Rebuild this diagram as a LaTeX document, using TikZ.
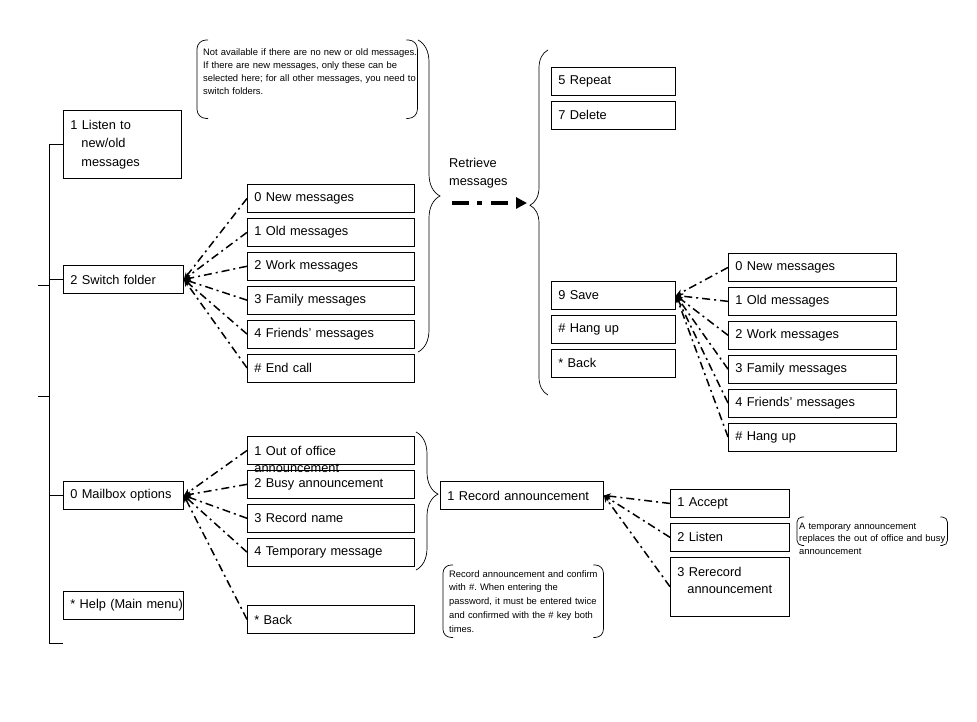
\documentclass[tikz,border=0pt]{standalone}
\usepackage{fontspec}
\setmainfont{Liberation Sans}
\usetikzlibrary{arrows.meta,calc,positioning,decorations.pathreplacing}

% round bracket pair drawn around a note node
\newcommand{\bracketpair}[2]{%
  \draw[line width=0.7pt,rounded corners=#2] ([xshift=#2+2pt]#1.north west) -- (#1.north west) -- (#1.south west) -- ([xshift=#2+2pt]#1.south west);
  \draw[line width=0.7pt,rounded corners=#2] ([xshift=-#2-2pt]#1.north east) -- (#1.north east) -- (#1.south east) -- ([xshift=-#2-2pt]#1.south east);}

\begin{document}
\begin{tikzpicture}[x=1pt,y=-1pt,>=Stealth,node distance=5pt,
  box/.style={draw,line width=0.9pt,minimum height=28pt,inner xsep=7pt,inner ysep=2pt,align=left,font=\fontsize{12.8}{17}\selectfont},
  leftbox/.style={box,text width=106pt},
  midbox/.style={box,text width=153pt},
  rightbox/.style={box,text width=110pt},
  farbox/.style={box,text width=154pt},
  recbox/.style={box,text width=149pt},
  subbox/.style={box,text width=105pt},
  note/.style={align=left,inner xsep=4pt,inner ysep=2pt,execute at begin node=\frenchspacing},
  link/.style={line width=1.5pt,dash pattern=on 8pt off 4pt on 2pt off 4pt,-{Stealth[length=7pt,width=6pt]}},
  brc/.style={decorate,decoration={brace,amplitude=#1},line width=0.7pt},
  tree/.style={line width=0.8pt}]
  \useasboundingbox (0,0) rectangle (977,721);

  % main menu
  \node[leftbox,anchor=north west,minimum height=68pt,text width=104pt,font=\fontsize{12.8}{18.5}\selectfont] (listen) at (63,110) {1 Listen to\\\hspace*{11pt}new/old\\\hspace*{11pt}messages};
  \node[leftbox,anchor=north west] (switch) at (63,265) {2 Switch folder};
  \node[leftbox,anchor=north west] (mailbox) at (63,481) {0 Mailbox options};
  \node[leftbox,anchor=north west] (help) at (63,591) {\mbox{* Help (Main menu)}};

  \coordinate (treetop) at ($(listen.west)+(-14,0)$);
  \coordinate (treebot) at (49,643);
  \coordinate (stubA) at (38,285);
  \coordinate (stubB) at (38,396);
  \draw[tree] (listen.west) -- (treetop) -- (treebot) -- ++(14,0);
  \draw[tree] (switch.west) -- (switch.west -| treetop);
  \draw[tree] (mailbox.west) -- (mailbox.west -| treetop);
  \draw[tree] (stubA) -- (stubA -| treetop);
  \draw[tree] (stubB) -- (stubB -| treetop);

  % folders
  \node[midbox,anchor=north west] (fnew) at (247,184) {0 New messages};
  \node[midbox,below=of fnew] (fold) {1 Old messages};
  \node[midbox,below=of fold] (fwork) {2 Work messages};
  \node[midbox,below=of fwork] (ffam) {3 Family messages};
  \node[midbox,below=of ffam] (ffriend) {4 Friends' messages};
  \node[midbox,below=of ffriend] (fend) {\# End call};
  \foreach \n in {fnew,fold,fwork,ffam,ffriend,fend}
    \draw[link] (\n.west) -- (switch.east);

  \node[note,anchor=north west,inner xsep=6pt,text width=208pt,text height=13pt,text depth=61pt,font=\fontsize{9.4}{13}\selectfont] (foldernote) at (197,40) {\mbox{Not available if there are no new or old messages.}\\\mbox{If there are new messages, only these can be}\\\mbox{selected here; for all other messages, you need to}\\\mbox{switch folders.}};
  \bracketpair{foldernote}{9pt}

  \draw[brc=22pt] (418,40) -- (418,352);

  % retrieve
  \node[anchor=north west,inner sep=0pt,align=left,font=\fontsize{12.8}{18}\selectfont] (retrieve) at (449,158) {Retrieve\\messages};
  \coordinate (retfrom) at (452,203);
  \coordinate (retto) at (527,203);
  \draw[line width=3.5pt,dash pattern=on 17pt off 8pt on 5pt off 9pt,-{Triangle[length=11pt,width=11pt]}] (retfrom) -- (retto);

  \draw[brc=18pt,decoration={mirror,aspect=0.45}] (548,50) -- (548,395);

  \node[rightbox,anchor=north west] (repeat) at (551,67) {5 Repeat};
  \node[rightbox,below=of repeat] (delete) {7 Delete};
  \node[rightbox,anchor=north west] (save) at (551,281) {9 Save};
  \node[rightbox,below=of save] (hangup) {\# Hang up};
  \node[rightbox,below=of hangup] (rback) {* Back};

  % save to folder
  \node[farbox,anchor=north west] (snew) at (728,253) {0 New messages};
  \node[farbox,below=of snew] (sold) {1 Old messages};
  \node[farbox,below=of sold] (swork) {2 Work messages};
  \node[farbox,below=of swork] (sfam) {3 Family messages};
  \node[farbox,below=of sfam] (sfriend) {4 Friends' messages};
  \node[farbox,below=of sfriend] (shang) {\# Hang up};
  \foreach \n in {snew,sold,swork,sfam,sfriend,shang}
    \draw[link] (\n.west) -- (save.east);

  % mailbox options
  \node[midbox,anchor=north west,text depth=0pt] (outoffice) at (247,436) {1 Out of office\\announcement};
  \node[midbox,below=of outoffice] (busy) {2 Busy announcement};
  \node[midbox,below=of busy] (recname) {3 Record name};
  \node[midbox,below=of recname] (tempmsg) {4 Temporary message};
  \node[midbox,anchor=north west] (mback) at (247,605) {* Back};
  \foreach \n in {outoffice,busy,recname,tempmsg,mback}
    \draw[link] (\n.west) -- (mailbox.east);

  \draw[brc=22pt,decoration={aspect=0.45}] (416,432) -- (416,570);

  \node[recbox,anchor=north west] (record) at (440,481) {1 Record announcement};
  \node[subbox,anchor=north west] (accept) at (670,489) {1 Accept};
  \node[subbox,below=of accept] (hear) {2 Listen};
  \node[subbox,below=of hear,minimum height=59pt,text depth=30pt] (rerecord) {3 Rerecord\\\hspace*{10pt}announcement};
  \foreach \n in {accept,hear,rerecord}
    \draw[link] (\n.west) -- (record.east);

  \node[note,anchor=north west,inner xsep=6pt,text width=148pt,text height=10pt,text depth=58pt,font=\fontsize{9.4}{13.7}\selectfont] (recnote) at (443,565) {\mbox{Record announcement and confirm}\\\mbox{with \#. When entering the}\\\mbox{password, it must be entered twice}\\\mbox{and confirmed with the \# key both}\\\mbox{times.}};
  \bracketpair{recnote}{8pt}

  \node[note,anchor=north west,inner xsep=2pt,text width=146pt,text height=10pt,text depth=14pt,font=\fontsize{9.4}{12.5}\selectfont] (tempnote) at (797,517) {\mbox{A temporary announcement}\\\mbox{replaces the out of office and busy}\\\mbox{announcement}};
  \bracketpair{tempnote}{5pt}
\end{tikzpicture}
\end{document}
